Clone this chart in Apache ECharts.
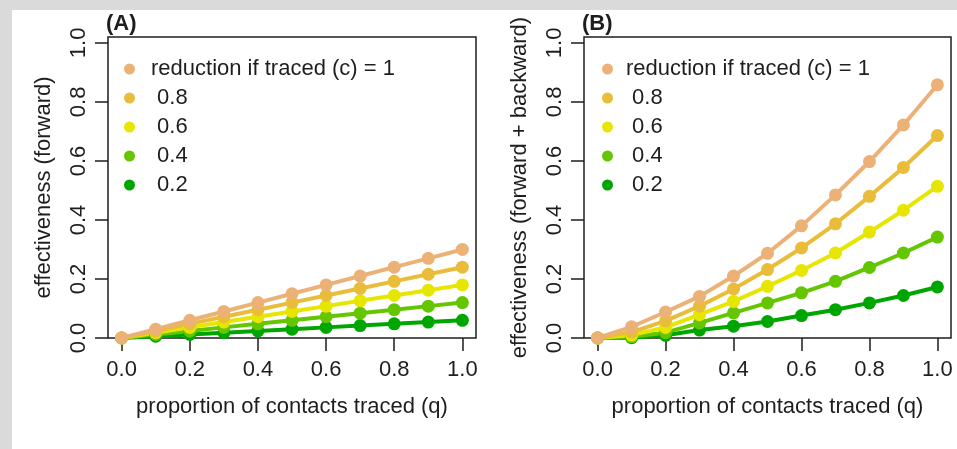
<!DOCTYPE html>
<html>
<head>
<meta charset="utf-8">
<title>contact tracing effectiveness</title>
<script src="https://cdn.jsdelivr.net/npm/echarts@6/dist/echarts.min.js"></script>
<style>
  html, body { margin: 0; padding: 0; background: #fff; }
  #chart { width: 957px; height: 449px; }
</style>
</head>
<body>
<div id="chart"></div>
<script>
// proportion of contacts traced (q)
const q = [0, 0.1, 0.2, 0.3, 0.4, 0.5, 0.6, 0.7, 0.8, 0.9, 1.0]
const tickValues = [0, 0.2, 0.4, 0.6, 0.8, 1.0]

// reduction if traced (c), legend order
const cNames = ['reduction if traced (c) = 1', '0.8', '0.6', '0.4', '0.2']
const cColors = ['#ECB176', '#E9BD3A', '#E6E600', '#63C600', '#00A600']

// (A) forward only
const fwd_c10 = [0, 0.03, 0.06, 0.09, 0.12, 0.15, 0.18, 0.21, 0.24, 0.27, 0.30]
const fwd_c08 = [0, 0.024, 0.048, 0.072, 0.096, 0.12, 0.144, 0.168, 0.192, 0.216, 0.24]
const fwd_c06 = [0, 0.018, 0.036, 0.054, 0.072, 0.09, 0.108, 0.126, 0.144, 0.162, 0.18]
const fwd_c04 = [0, 0.012, 0.024, 0.036, 0.048, 0.06, 0.072, 0.084, 0.096, 0.108, 0.12]
const fwd_c02 = [0, 0.006, 0.012, 0.018, 0.024, 0.03, 0.036, 0.042, 0.048, 0.054, 0.06]

// (B) forward + backward
const both_c10 = [0, 0.038, 0.088, 0.141, 0.21, 0.287, 0.38, 0.485, 0.598, 0.722, 0.858]
const both_c08 = [0, 0.02, 0.058, 0.108, 0.166, 0.232, 0.305, 0.387, 0.48, 0.578, 0.686]
const both_c06 = [0, 0.01, 0.036, 0.079, 0.124, 0.175, 0.229, 0.288, 0.359, 0.433, 0.514]
const both_c04 = [0, 0.004, 0.018, 0.051, 0.085, 0.119, 0.153, 0.192, 0.239, 0.288, 0.342]
const both_c02 = [0, 0.001, 0.009, 0.027, 0.04, 0.056, 0.076, 0.096, 0.119, 0.144, 0.173]

const panelA = [fwd_c10, fwd_c08, fwd_c06, fwd_c04, fwd_c02]
const panelB = [both_c10, both_c08, both_c06, both_c04, both_c02]

const FONT = 'Liberation Sans, Arial, sans-serif'
const INK = '#1e1e1e'

const myChart = echarts.init(document.getElementById('chart'))

const fmt = (v) => v.toFixed(1)

function xAxisFor(idx, name) {
  return {
    gridIndex: idx,
    type: 'value',
    min: -0.04,
    max: 1.04,
    name: name,
    nameLocation: 'middle',
    nameGap: 58,
    nameTextStyle: { color: INK, fontSize: 22, fontFamily: FONT },
    axisLine: { show: false, onZero: false },
    axisTick: {
      show: true, inside: false, length: 13,
      lineStyle: { color: INK, width: 1.5 },
      customValues: tickValues
    },
    axisLabel: {
      color: INK, fontSize: 22, fontFamily: FONT, margin: 21,
      customValues: tickValues, formatter: fmt
    },
    splitLine: { show: false }
  }
}

function yAxisFor(idx, name) {
  return {
    gridIndex: idx,
    type: 'value',
    min: 0,
    max: 1.02,
    name: name,
    nameLocation: 'middle',
    nameRotate: 90,
    nameGap: 53,
    nameTextStyle: { color: INK, fontSize: 22, fontFamily: FONT },
    axisLine: { show: false, onZero: false },
    axisTick: {
      show: true, inside: false, length: 13,
      lineStyle: { color: INK, width: 1.5 },
      customValues: tickValues
    },
    axisLabel: {
      color: INK, fontSize: 22, fontFamily: FONT, margin: 18, rotate: 90,
      customValues: tickValues, formatter: fmt
    },
    splitLine: { show: false }
  }
}

// draw c = 0.2 first so the lighter lines sit on top, like the original
function seriesFor(idx, lists) {
  const out = []
  for (let i = lists.length - 1; i >= 0; i--) {
    out.push({
      name: cNames[i],
      type: 'line',
      xAxisIndex: idx,
      yAxisIndex: idx,
      data: q.map((x, k) => [x, lists[i][k]]),
      symbol: 'circle',
      symbolSize: 13,
      color: cColors[i],
      lineStyle: { width: 4, color: cColors[i] },
      itemStyle: { color: cColors[i] },
      emphasis: { disabled: true }
    })
  }
  return out
}

function legendFor(left, pad) {
  return {
    orient: 'vertical',
    left: left,
    top: 58,
    padding: 0,
    itemGap: 7,
    itemWidth: 11,
    itemHeight: 11,
    icon: 'circle',
    selectedMode: false,
    data: cNames,
    formatter: (n) => (n === cNames[0] ? n : ' ' + n),
    textStyle: {
      color: INK, fontSize: 22, fontFamily: FONT, lineHeight: 22,
      padding: [0, 0, 0, pad]
    }
  }
}

const options = {
  animation: false,
  backgroundColor: '#fff',
  title: [
    { text: '(A)', left: 106, top: 13, padding: 0,
      textStyle: { color: INK, fontSize: 22, fontWeight: 'bold', fontFamily: FONT } },
    { text: '(B)', left: 582, top: 13, padding: 0,
      textStyle: { color: INK, fontSize: 22, fontWeight: 'bold', fontFamily: FONT } }
  ],
  grid: [
    { left: 108, top: 37, width: 368, height: 301, show: true,
      borderColor: INK, borderWidth: 1.5, backgroundColor: 'transparent' },
    { left: 584, top: 37, width: 367, height: 301, show: true,
      borderColor: INK, borderWidth: 1.5, backgroundColor: 'transparent' }
  ],
  xAxis: [
    xAxisFor(0, 'proportion of contacts traced (q)'),
    xAxisFor(1, 'proportion of contacts traced (q)')
  ],
  yAxis: [
    yAxisFor(0, 'effectiveness (forward)'),
    yAxisFor(1, 'effectiveness (forward + backward)')
  ],
  legend: [legendFor(124, 11), legendFor(602, 8)],
  // grey frame along the top and left edge of the figure
  graphic: [
    { type: 'rect', left: 0, top: 0, shape: { width: 957, height: 10 }, style: { fill: '#dadada' }, silent: true },
    { type: 'rect', left: 0, top: 0, shape: { width: 12, height: 449 }, style: { fill: '#dadada' }, silent: true }
  ],
  series: [...seriesFor(0, panelA), ...seriesFor(1, panelB)]
}

myChart.setOption(options)
</script>
</body>
</html>
